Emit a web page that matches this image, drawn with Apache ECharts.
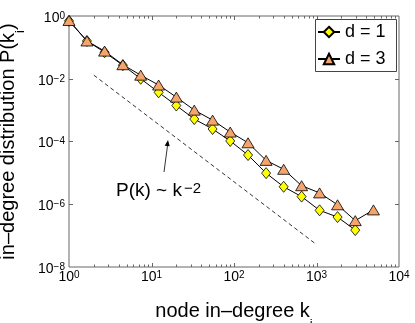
<!DOCTYPE html>
<html>
<head>
<meta charset="utf-8">
<script src="https://cdn.jsdelivr.net/npm/echarts@6/dist/echarts.min.js"></script>
<style>
  html, body { margin: 0; padding: 0; background: #fff; }
  #chart { width: 415px; height: 323px; }
</style>
</head>
<body>
<div id="chart"></div>
<script>
  // node in-degree k (same bins for both runs)
  var degrees = [1, 1.65, 2.7, 4.5, 7.4, 12.2, 20, 33, 55, 90, 148, 245, 400, 660, 1090, 1800, 2950, 4900];
  // in-degree distribution, d = 1
  var probD1 = [0.7, 0.16, 0.07, 0.027, 0.010, 3.7e-3, 1.4e-3, 5.2e-4, 2.5e-4, 1.04e-4, 3.7e-5, 9.8e-6, 3.6e-6, 1.75e-6, 6.4e-7, 3.9e-7, 1.5e-7];
  // in-degree distribution, d = 3
  var probD3 = [0.72, 0.16, 0.076, 0.028, 0.013, 6.3e-3, 2.6e-3, 1.0e-3, 4.8e-4, 2.0e-4, 9.1e-5, 2.5e-5, 1.3e-5, 3.9e-6, 2.3e-6, 9.6e-7, 3.0e-7, 6.6e-7];
  // guide line P(k) ~ k^-2
  var guideK = [2, 1000];
  var guideP = [0.013, 5.2e-8];
  // tick positions
  var xDecades = [1, 10, 100, 1000];
  var xMajorTicks = [10, 100, 1000];
  var yMajorTicks = [1e-2, 1e-4, 1e-6];

  var X_MIN = 1, X_MAX = 1e4, Y_MIN = 1e-8, Y_MAX = 1;
  var FONT = 'Liberation Sans, Arial, Helvetica, sans-serif';
  var AXIS_COLOR = '#666';

  function pairs(xs, ys) {
    var out = [];
    for (var i = 0; i < ys.length; i++) out.push([xs[i], ys[i]]);
    return out;
  }

  // tick data: [value, anchor, length]
  var xTickData = [];
  xDecades.forEach(function (d) {
    for (var m = 2; m <= 9; m++) xTickData.push([d * m, Y_MIN, 2.5]);
  });
  xMajorTicks.forEach(function (v) { xTickData.push([v, Y_MIN, 4]); });
  var yTickData = yMajorTicks.map(function (v) { return [X_MIN, v, 4]; });

  function crisp(v) { return Math.round(v) + 0.5; }

  function renderXTick(params, api) {
    var k = api.value(0), len = api.value(2);
    var bot = api.coord([k, Y_MIN]);
    var top = api.coord([k, Y_MAX]);
    var x = crisp(bot[0]);
    return {
      type: 'group',
      children: [
        { type: 'line', shape: { x1: x, y1: bot[1], x2: x, y2: bot[1] - len }, style: { stroke: AXIS_COLOR, lineWidth: 1 } },
        { type: 'line', shape: { x1: x, y1: top[1], x2: x, y2: top[1] + len }, style: { stroke: AXIS_COLOR, lineWidth: 1 } }
      ]
    };
  }

  function renderYTick(params, api) {
    var p = api.value(1), len = api.value(2);
    var left = api.coord([X_MIN, p]);
    var right = api.coord([X_MAX, p]);
    var y = crisp(left[1]);
    return {
      type: 'group',
      children: [
        { type: 'line', shape: { x1: left[0], y1: y, x2: left[0] + len, y2: y }, style: { stroke: AXIS_COLOR, lineWidth: 1 } },
        { type: 'line', shape: { x1: right[0], y1: y, x2: right[0] - len, y2: y }, style: { stroke: AXIS_COLOR, lineWidth: 1 } }
      ]
    };
  }

  function expOf(v) { return Math.round(Math.log(v) / Math.LN10); }
  function supText(e) { return e < 0 ? '\u2212' + (-e) : String(e); }

  var xTickRich = {
    b: { fontFamily: FONT, fontSize: 14, lineHeight: 14, padding: [5, 0, 0, 0], verticalAlign: 'bottom', color: '#000' },
    s: { fontFamily: FONT, fontSize: 10, lineHeight: 10, verticalAlign: 'top', color: '#000' }
  };
  var yTickRich = {
    b: { fontFamily: FONT, fontSize: 14, lineHeight: 14, padding: [3.5, 0, 0, 0], verticalAlign: 'bottom', color: '#000' },
    s: { fontFamily: FONT, fontSize: 10, lineHeight: 10, verticalAlign: 'top', color: '#000' }
  };
  var nameRich = {
    m: { fontFamily: FONT, fontSize: 20, lineHeight: 20, verticalAlign: 'top', color: '#000' },
    i: { fontFamily: FONT, fontSize: 13, lineHeight: 13, padding: [16, 0, 0, 0], verticalAlign: 'top', color: '#000' }
  };

  var chart = echarts.init(document.getElementById('chart'), null, { renderer: 'canvas' });

  var option = {
    animation: false,
    backgroundColor: '#fff',
    textStyle: { fontFamily: FONT, color: '#000' },
    grid: {
      left: 69, right: 16, top: 16, bottom: 56,
      show: true, borderColor: AXIS_COLOR, borderWidth: 1,
      containLabel: false,
      outerBoundsMode: 'none'
    },
    legend: {
      data: ['d = 1', 'd = 3'],
      orient: 'vertical',
      left: 315, top: 19,
      padding: [4, 3, 3, 2],
      itemGap: 9,
      itemWidth: 22,
      itemHeight: 13,
      borderWidth: 0,
      selectedMode: false,
      z: 20,
      textStyle: { fontFamily: FONT, fontSize: 18, color: '#000' }
    },
    xAxis: {
      type: 'log',
      logBase: 10,
      min: X_MIN, max: X_MAX,
      name: '{m|node in\u2013degree k}{i|i}',
      nameLocation: 'middle',
      nameGap: 34.5,
      nameTextStyle: { fontSize: 20, rich: nameRich },
      axisLine: { show: false },
      axisTick: { show: false },
      splitLine: { show: false },
      minorTick: { show: false },
      axisLabel: {
        margin: 3,
        fontSize: 14,
        formatter: function (v) { return '{b|10}{s|' + supText(expOf(v)) + '}'; },
        rich: xTickRich
      }
    },
    yAxis: {
      type: 'log',
      logBase: 10,
      min: Y_MIN, max: Y_MAX,
      name: '{m|in\u2013degree distribution P(k}{i|i}{m|)}',
      nameLocation: 'middle',
      nameGap: 37,
      nameTextStyle: { fontSize: 20, rich: nameRich },
      axisLine: { show: false },
      axisTick: { show: false },
      splitLine: { show: false },
      minorTick: { show: false },
      axisLabel: {
        margin: 4,
        fontSize: 14,
        padding: [4, 0, 0, 0],
        formatter: function (v) {
          var e = expOf(v);
          if (e % 2 !== 0) return '';
          return '{b|10}{s|' + supText(e) + '}';
        },
        rich: yTickRich
      }
    },
    series: [
      {
        name: 'guide',
        type: 'line',
        data: pairs(guideK, guideP),
        symbol: 'none',
        silent: true,
        lineStyle: { color: '#000', width: 0.8, type: [4, 3] },
        z: 1
      },
      {
        name: 'd = 1',
        type: 'line',
        data: pairs(degrees, probD1),
        symbol: 'diamond',
        symbolSize: [9, 11],
        showAllSymbol: true,
        silent: true,
        lineStyle: { color: '#000', width: 1 },
        itemStyle: { color: '#ffff00', borderColor: '#000', borderWidth: 0.8 },
        z: 2
      },
      {
        name: 'd = 3',
        type: 'line',
        data: pairs(degrees, probD3),
        symbol: 'triangle',
        symbolSize: [12, 10],
        showAllSymbol: true,
        silent: true,
        lineStyle: { color: '#000', width: 1 },
        itemStyle: { color: '#f5a46e', borderColor: '#000', borderWidth: 0.8 },
        z: 3
      },
      {
        name: 'xticks',
        type: 'custom',
        renderItem: renderXTick,
        data: xTickData,
        encode: { x: 0, y: 1 },
        silent: true,
        clip: false,
        z: 4
      },
      {
        name: 'yticks',
        type: 'custom',
        renderItem: renderYTick,
        data: yTickData,
        encode: { x: 0, y: 1 },
        silent: true,
        clip: false,
        z: 4
      }
    ],
    graphic: [
      {
        // legend frame
        type: 'rect',
        z: 10,
        silent: true,
        shape: { x: 315.5, y: 19.5, width: 81, height: 52 },
        style: { fill: '#fff', stroke: '#444', lineWidth: 1 }
      },
      {
        type: 'line',
        shape: { x1: 164, y1: 172, x2: 167.6, y2: 145 },
        style: { stroke: '#000', lineWidth: 0.8 },
        silent: true
      },
      {
        type: 'polygon',
        shape: { points: [[168, 140], [169.7, 146.3], [164.7, 145.7]] },
        style: { fill: '#000' },
        silent: true
      },
      {
        type: 'text',
        x: 116, y: 181,
        silent: true,
        style: {
          text: '{a|P(k) ~ k}{b|\u22122}',
          fill: '#000',
          rich: {
            a: { fontFamily: FONT, fontSize: 19, lineHeight: 19, padding: [4.5, 0, 0, 0], verticalAlign: 'bottom', fill: '#000' },
            b: { fontFamily: FONT, fontSize: 15, lineHeight: 15, padding: [0, 0, 0, 2], verticalAlign: 'top', fill: '#000' }
          }
        }
      }
    ]
  };

  chart.setOption(option);
</script>
</body>
</html>
